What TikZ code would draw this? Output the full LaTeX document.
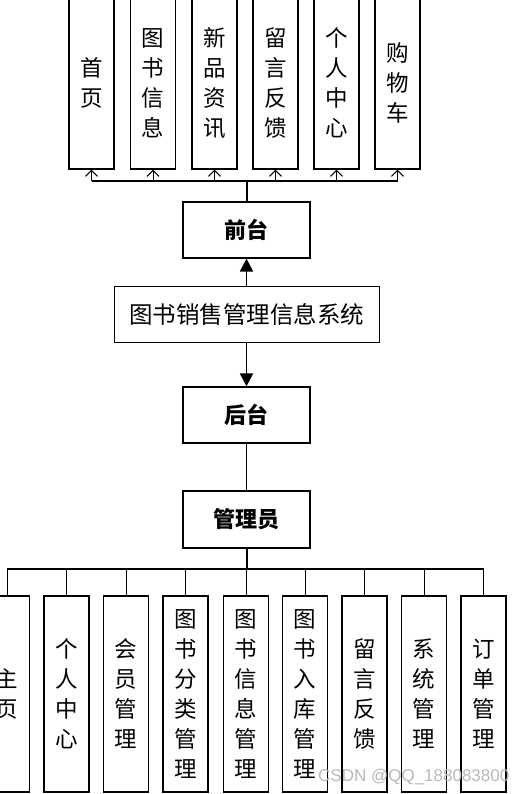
\documentclass[tikz,border=0pt]{standalone}
\usepackage{fontspec}
\setmainfont{Noto Sans CJK SC}
\newfontfamily\wmfont{Liberation Sans}
\usetikzlibrary{arrows.meta}
\begin{document}
\begin{tikzpicture}[x=1pt,y=-1pt,
  vbox/.style={draw, line width=1.2pt, minimum width=45pt, inner sep=0pt, font=\fontsize{22.5}{30}\selectfont, align=center},
  hbox/.style={draw, line width=1.2pt, minimum width=127pt, minimum height=56pt, inner sep=0pt, font=\bfseries\fontsize{22}{25}\selectfont},
  sysbox/.style={draw, line width=1pt, minimum width=265pt, minimum height=56pt, inner sep=0pt, font=\fontsize{23.5}{25}\selectfont},
  thinline/.style={line width=1pt},
  busline/.style={line width=1.5pt},
  trunk/.style={line width=2pt},
  barb/.style={thinline, -{Straight Barb[length=6pt,width=12pt,line width=1.1pt]}},
  bigarrow/.style={line width=1.8pt, -{Triangle[length=13pt,width=13pt]}}
]
\useasboundingbox (0,0) rectangle (530,794);
\clip (0,0) rectangle (530,794);
\fill[white] (0,0) rectangle (530,794);

% top boxes
\node[vbox, minimum height=172pt] (t1) at (91.5,83) {首\\页};
\node[vbox, minimum height=172pt] (t2) at (153,83) {图\\书\\信\\息};
\node[vbox, minimum height=172pt] (t3) at (214.5,83) {新\\品\\资\\讯};
\node[vbox, minimum height=172pt] (t4) at (275.5,83) {留\\言\\反\\馈};
\node[vbox, minimum height=172pt] (t5) at (336.5,83) {个\\人\\中\\心};
\node[vbox, minimum height=172pt] (t6) at (397.5,83) {购\\物\\车};

% middle boxes
\node[hbox] (qt) at (246.5,230) {前台};
\node[sysbox] (sys) at (246.5,314) {图书销售管理信息系统};
\node[hbox] (ht) at (246.5,415) {后台};
\node[hbox, minimum height=57pt] (gly) at (246.5,519.5) {管理员};

% bottom boxes
\node[vbox, minimum height=196pt] (b1) at (7,694) {主\\页};
\node[vbox, minimum height=196pt] (b2) at (66.5,694) {个\\人\\中\\心};
\node[vbox, minimum height=196pt] (b3) at (126,694) {会\\员\\管\\理};
\node[vbox, minimum height=196pt] (b4) at (185.5,694) {图\\书\\分\\类\\管\\理};
\node[vbox, minimum height=196pt] (b5) at (246,694) {图\\书\\信\\息\\管\\理};
\node[vbox, minimum height=196pt] (b6) at (305,694) {图\\书\\入\\库\\管\\理};
\node[vbox, minimum height=196pt] (b7) at (364.5,694) {留\\言\\反\\馈};
\node[vbox, minimum height=196pt] (b8) at (424,694) {系\\统\\管\\理};
\node[vbox, minimum height=196pt] (b9) at (483.5,694) {订\\单\\管\\理};

% top connectors
\coordinate (tb) at (246.5,181);
\draw[trunk] (qt.north) -- (tb);
\draw[busline] (t1.south |- tb) -- (t6.south |- tb);
\foreach \i in {1,...,6} {
  \draw[barb] (t\i.south |- tb) -- (t\i.south);
}

% middle connectors
\draw[bigarrow] (sys.north) -- (qt.south);
\draw[bigarrow] (sys.south) -- (ht.north);
\draw[thinline] (ht.south) -- (gly.north);

% bottom connectors
\coordinate (bb) at (246.5,569);
\draw[trunk] (gly.south) -- (bb);
\draw[busline] (b1.north |- bb) -- (b9.north |- bb);
\foreach \i in {1,...,9} {
  \draw[thinline] (b\i.north |- bb) -- (b\i.north);
}

% watermark
\node[anchor=west, inner sep=0pt, text=gray!55, font=\wmfont\fontsize{17}{17}\selectfont] (wm) at (318,777) {CSDN @QQ\_188083800};
\end{tikzpicture}
\end{document}
